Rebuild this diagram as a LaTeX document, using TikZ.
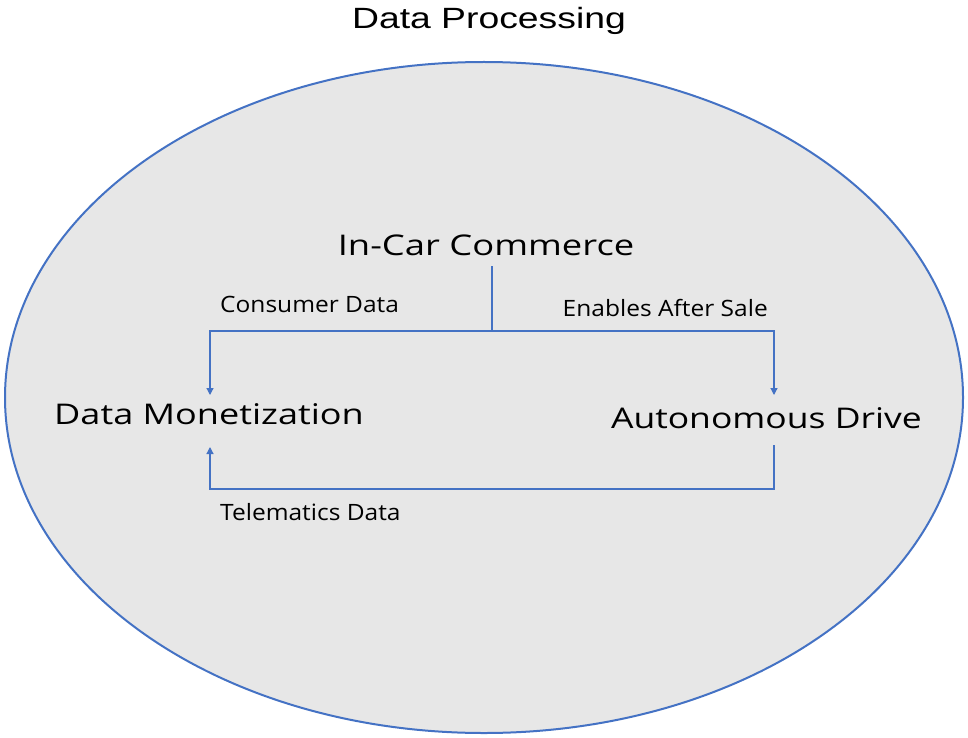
\documentclass[tikz,border=0pt]{standalone}
\usepackage{fontspec}
\setmainfont{Open Sans}
\newfontfamily\titlefont{Liberation Sans}
\usetikzlibrary{arrows.meta,shapes.geometric}
\definecolor{edgeblue}{HTML}{4472C4}
\definecolor{fillgray}{HTML}{E7E7E7}
\newcommand{\bigwide}[2][1.263]{\scalebox{#1}[1]{#2}}
\newcommand{\smallwide}[1]{\scalebox{1.09}[1]{#1}}
\newcommand{\titlewide}[1]{\scalebox{1.274}[1]{#1}}
\begin{document}
\begin{tikzpicture}[x=1pt,y=-1pt,
  bigtext/.style={inner sep=0pt,font=\fontsize{28.5}{34}\selectfont},
  smalltext/.style={inner sep=0pt,font=\fontsize{22.5}{27}\selectfont},
  conn/.style={draw=edgeblue,line width=1.2pt},
  arr/.style={conn,-{Triangle[length=7pt,width=7pt]}}]
\useasboundingbox (0,0) rectangle (968,738);
\node[ellipse,draw=edgeblue,fill=fillgray,line width=2pt,inner sep=0pt,minimum width=958pt,minimum height=671pt] (proc) at (484,397.5) {};
\node[inner sep=0pt,anchor=base,font=\titlefont\fontsize{29.3}{34}\selectfont] (title) at (489,29) {\titlewide{Data Processing}};
\node[bigtext] (icc) at (486,245) {\bigwide[1.276]{In-Car Commerce}};
\node[bigtext,anchor=west] (dm) at (54,414) {\bigwide[1.265]{Data Monetization}};
\node[bigtext,anchor=east] (ad) at (922,418) {\bigwide[1.245]{Autonomous Drive}};
\node[smalltext,anchor=west] (cd) at (220,304) {\smallwide{Consumer Data}};
\node[smalltext,anchor=east] (eas) at (768,308) {\smallwide{Enables After Sale}};
\node[smalltext,anchor=west] (td) at (220,512) {\smallwide{Telematics Data}};
\coordinate (icctop) at (492,266);
\coordinate (split) at (492,331);
\coordinate (dmtop) at (210,395);
\coordinate (adtop) at (774,395);
\coordinate (adbot) at (774,445);
\coordinate (dmbot) at (210,447);
\draw[conn] (icctop) -- (split);
\draw[arr] (split) -| (dmtop);
\draw[arr] (split) -| (adtop);
\draw[arr] (adbot) |- (490,489) -| (dmbot);
\end{tikzpicture}
\end{document}
